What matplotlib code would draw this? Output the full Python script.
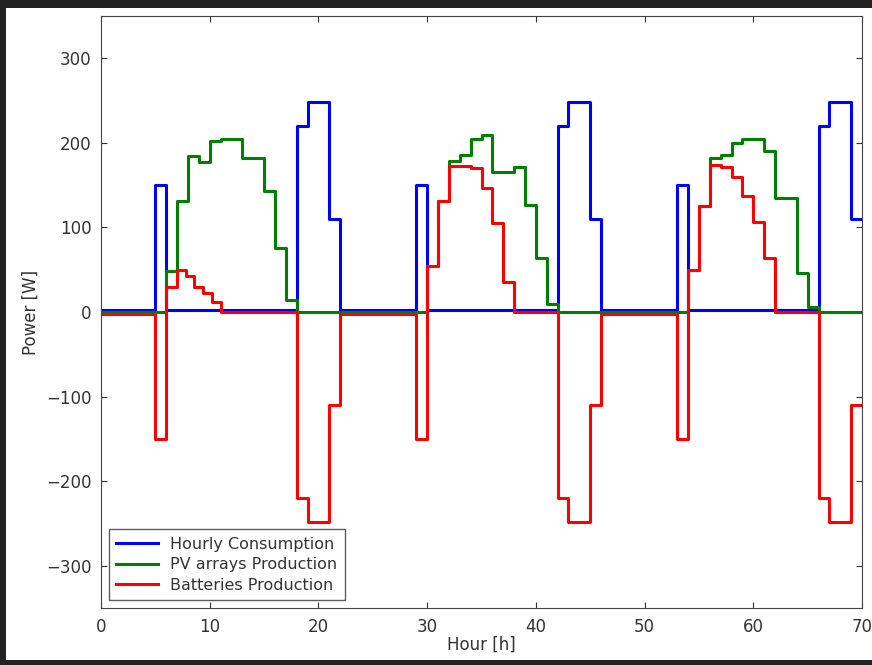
import matplotlib
matplotlib.use("Agg")
import matplotlib.pyplot as plt
from matplotlib.patches import Rectangle

# step change points (hour where a new value starts) and the value held after it
cons_hours = [0, 5, 6, 18, 19, 21, 22, 29, 30, 42, 43, 45, 46, 53, 54, 66, 67, 69]
cons_power = [2, 150, 2, 220, 248, 110, 2, 150, 2, 220, 248, 110, 2, 150, 2, 220, 248, 110]

pv_hours = [0, 6, 7, 8, 9, 10, 11, 12, 13, 15, 16, 17, 18,
            30, 31, 32, 33, 34, 35, 36, 38, 39, 40, 41, 42,
            54, 55, 56, 57, 58, 59, 61, 62, 64, 65, 66]
pv_power = [0, 48, 131, 184, 177, 202, 204, 205, 182, 143, 76, 14, 0,
            54, 131, 179, 186, 204, 209, 166, 171, 127, 64, 10, 0,
            50, 125, 182, 186, 200, 204, 190, 135, 46, 6, 0]

batt_hours = [0, 5, 6, 7, 7.8, 8.6, 9.4, 10.2, 11, 18, 19, 21, 22,
              29, 30, 31, 32, 34, 35, 36, 37, 38, 42, 43, 45, 46,
              53, 54, 55, 56, 57, 58, 59, 60, 61, 62, 66, 67, 69]
batt_power = [-2, -150, 30, 50, 43, 30, 22, 12, 0, -220, -248, -110, -2,
              -150, 54, 131, 173, 170, 147, 105, 36, 0, -220, -248, -110, -2,
              -150, 50, 125, 174, 171, 160, 137, 107, 64, 0, -220, -248, -110]

series_names = ["Hourly Consumption", "PV arrays Production", "Batteries Production"]
x_ticks = [0, 10, 20, 30, 40, 50, 60, 70]
y_ticks = [-300, -200, -100, 0, 100, 200, 300]
x_end = 70


def close_step(hours, power):
	# repeat last value at the end of the axis so the final step is drawn
	return list(hours) + [x_end], list(power) + [power[-1]]


def plot_energy(outputFilename):
	fig = plt.figure(figsize=(8.72, 6.65), dpi=100)
	fig.patch.set_facecolor("white")
	ax = fig.add_axes([101 / 872, 1 - 608 / 665, 761 / 872, 592 / 665])

	colors = ["#0000ff", "#008000", "#ff0000"]
	data = [(cons_hours, cons_power), (pv_hours, pv_power), (batt_hours, batt_power)]
	for (hh, pp), name, c in zip(data, series_names, colors):
		xs, ys = close_step(hh, pp)
		ax.step(xs, ys, where="post", color=c, lw=2.2, label=name)

	ax.set_xlim(0, 70)
	ax.set_ylim(-350, 350)
	ax.set_xticks(x_ticks)
	ax.set_yticks(y_ticks)
	ax.tick_params(direction="in", top=True, right=True, length=4,
		labelsize=12, colors="#333333", pad=7)
	for sp in ax.spines.values():
		sp.set_color("#444444")
	ax.set_xlabel("Hour [h]", fontsize=12, color="#333333", labelpad=0)
	ax.set_ylabel("Power [W]", fontsize=12, color="#333333", labelpad=4)

	leg = ax.legend(loc="lower left", fontsize=11.5, fancybox=False,
		handlelength=2.6, borderaxespad=0.5, labelspacing=0.35, borderpad=0.45)
	leg.get_frame().set_edgecolor("#333333")
	for t in leg.get_texts():
		t.set_color("#333333")

	# dark screenshot border
	for (x0, y0, w, h) in [(0, 0, 6 / 872, 1), (0, 1 - 8 / 665, 1, 8 / 665),
			(0, 0, 1, 5 / 665)]:
		fig.patches.append(Rectangle((x0, y0), w, h, transform=fig.transFigure,
			facecolor="#222222", edgecolor="none", zorder=10))

	fig.savefig(outputFilename, dpi=100)


if __name__ == '__main__':
	plot_energy("out.png")
